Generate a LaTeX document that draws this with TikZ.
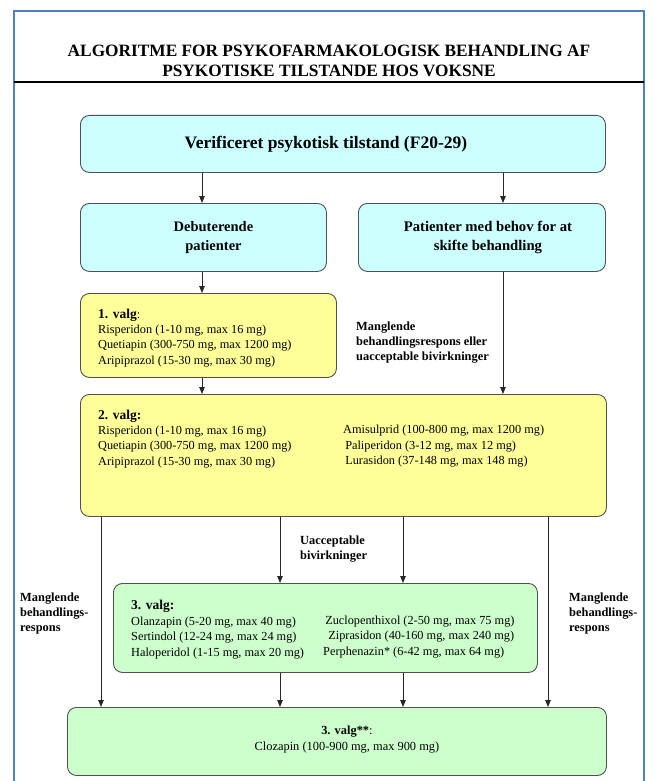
\documentclass[tikz,border=0pt]{standalone}
\usepackage{fontspec}
\setmainfont{Liberation Serif}
\usetikzlibrary{arrows.meta,calc}
\definecolor{framecol}{HTML}{4F81BD}
\definecolor{cyanfill}{HTML}{CCFFFF}
\definecolor{yellowfill}{HTML}{FFFF99}
\definecolor{greenfill}{HTML}{CCFFCC}
\definecolor{boxline}{HTML}{505050}
\newcommand{\valghead}{\fontsize{13.5}{15}\selectfont\bfseries}
\tikzset{
  box/.style={draw=boxline, line width=0.9pt, rounded corners=9pt, anchor=north west, inner sep=0pt},
  cyanbox/.style={box, fill=cyanfill},
  yellowbox/.style={box, fill=yellowfill},
  greenbox/.style={box, fill=greenfill},
  arr/.style={draw=black!85, line width=0.8pt, -{Triangle[length=7pt,width=5.5pt]}},
  bodytext/.style={font=\fontsize{12.3}{15.2}\selectfont, align=left, anchor=north west, inner sep=0pt},
  labeltext/.style={font=\fontsize{12.4}{14.6}\selectfont\bfseries, align=left, anchor=north west, inner sep=0pt},
  centertext/.style={align=center, inner sep=0pt},
}
\begin{document}
\begin{tikzpicture}[x=1pt,y=-1pt]
\useasboundingbox (0,0) rectangle (653,781);
\fill[white] (0,0) rectangle (653,781);
% frame
\draw[framecol, line width=1.8pt] (14,781) -- (14,11) -- (644,11) -- (644,781);
\draw[black, line width=1.6pt] (14,82) -- (644,82);
\node[centertext, font=\fontsize{17.3}{20}\selectfont\bfseries] (title) at (329,60.5)
  {ALGORITME FOR PSYKOFARMAKOLOGISK BEHANDLING AF\\PSYKOTISKE TILSTANDE HOS VOKSNE};

% boxes
\node[cyanbox, minimum width=525pt, minimum height=57pt] (verif) at (80,115) {};
\node[centertext, font=\fontsize{17.5}{20}\selectfont\bfseries] (veriftxt) at ($(verif.center)+(-17,0)$) {Verificeret psykotisk tilstand (F20-29)};

\node[cyanbox, minimum width=246pt, minimum height=68pt] (debut) at (80,203) {};
\node[centertext, font=\fontsize{14.5}{19}\selectfont\bfseries] (debuttxt) at ($(debut.center)+(10,0)$) {Debuterende\\patienter};

\node[cyanbox, minimum width=247pt, minimum height=68pt] (skift) at (358,203) {};
\node[centertext, font=\fontsize{14.7}{19}\selectfont\bfseries] (skifttxt) at ($(skift.center)+(6,0)$) {Patienter med behov for at\\skifte behandling};

\node[yellowbox, minimum width=256pt, minimum height=84pt] (valg1) at (80,293) {};
\node[bodytext] (valg1txt) at (98,309) {{\valghead 1. valg}:\\Risperidon (1-10 mg, max 16 mg)\\Quetiapin (300-750 mg, max 1200 mg)\\Aripiprazol (15-30 mg, max 30 mg)};

\node[labeltext] (lab1) at (356,322) {Manglende\\behandlingsrespons eller\\uacceptable bivirkninger};

\node[yellowbox, minimum width=526pt, minimum height=122pt] (valg2) at (80,394) {};
\node[bodytext] (valg2a) at (98,410) {{\valghead 2. valg:}\\Risperidon (1-10 mg, max 16 mg)\\Quetiapin (300-750 mg, max 1200 mg)\\Aripiprazol (15-30 mg, max 30 mg)};
\node[bodytext] (valg2b) at (343,425.2) {Amisulprid (100-800 mg, max 1200 mg)\\\,Paliperidon (3-12 mg, max 12 mg)\\\,Lurasidon (37-148 mg, max 148 mg)};

\node[labeltext] (lab2) at (300,536) {Uacceptable\\bivirkninger};
\node[labeltext] (lab3) at (20,593) {Manglende\\behandlings-\\respons};
\node[labeltext] (lab4) at (569,593) {Manglende\\behandlings-\\respons};

\node[greenbox, minimum width=424pt, minimum height=89pt] (valg3) at (113,583) {};
\node[bodytext, font=\fontsize{12.3}{15.6}\selectfont] (valg3a) at (131,600) {{\valghead 3. valg:}\\Olanzapin (5-20 mg, max 40 mg)\\Sertindol (12-24 mg, max 24 mg)\\Haloperidol (1-15 mg, max 20 mg)};
\node[bodytext, font=\fontsize{12.3}{15.6}\selectfont] (valg3b) at (323,615.6) {\,Zuclopenthixol (2-50 mg, max 75 mg)\\\ \,Ziprasidon (40-160 mg, max 240 mg)\\Perphenazin* (6-42 mg, max 64 mg)};

\node[greenbox, minimum width=539pt, minimum height=68pt] (valg4) at (67,707) {};
\node[centertext, font=\fontsize{12.4}{16}\selectfont] (valg4txt) at ($(valg4.center)+(10,-2)$) {{\bfseries 3. valg**}:\\Clozapin (100-900 mg, max 900 mg)};

% connector x positions
\coordinate (xL) at (202,0);
\coordinate (xR) at (503,0);
\coordinate (xA) at (101,0);
\coordinate (xB) at (280,0);
\coordinate (xC) at (403,0);
\coordinate (xD) at (548,0);

\draw[arr] (verif.south -| xL) -- (debut.north -| xL);
\draw[arr] (verif.south -| xR) -- (skift.north -| xR);
\draw[arr] (debut.south -| xL) -- (valg1.north -| xL);
\draw[arr] (valg1.south -| xL) -- (valg2.north -| xL);
\draw[arr] (skift.south -| xR) -- (valg2.north -| xR);
\draw[arr] (valg2.south -| xB) -- (valg3.north -| xB);
\draw[arr] (valg2.south -| xC) -- (valg3.north -| xC);
\draw[arr] (valg2.south -| xA) -- (valg4.north -| xA);
\draw[arr] (valg2.south -| xD) -- (valg4.north -| xD);
\draw[arr] (valg3.south -| xB) -- (valg4.north -| xB);
\draw[arr] (valg3.south -| xC) -- (valg4.north -| xC);
\end{tikzpicture}
\end{document}
